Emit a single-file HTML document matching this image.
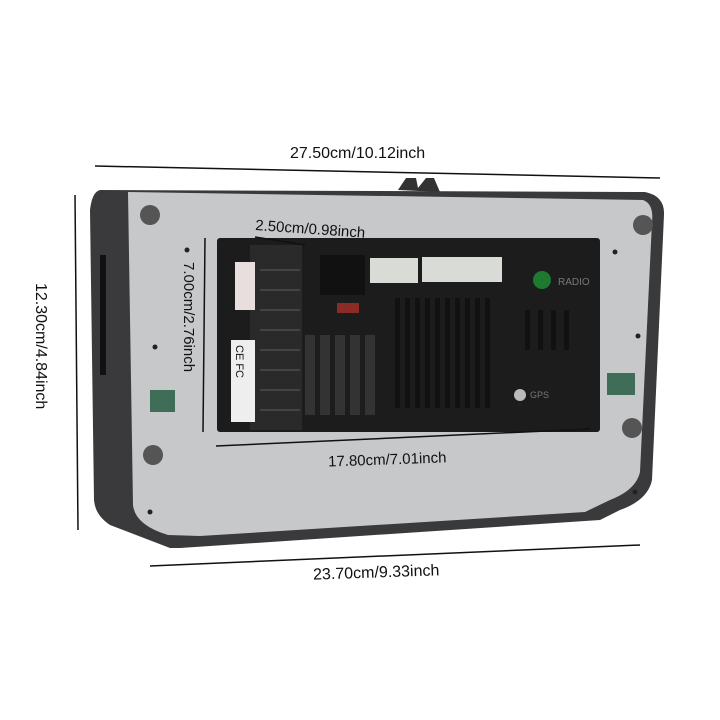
<!DOCTYPE html>
<html><head><meta charset="utf-8"><style>
html,body{margin:0;padding:0;background:#fff;width:720px;height:720px;overflow:hidden}
svg text{font-family:"Liberation Sans",sans-serif;fill:#111}
</style></head><body>
<svg width="720" height="720" viewBox="0 0 720 720" xmlns="http://www.w3.org/2000/svg">
<line x1="95" y1="166" x2="660" y2="178" stroke="#111" stroke-width="1.5"/>
<text x="290" y="158" font-size="16">27.50cm/10.12inch</text>
<line x1="75" y1="195" x2="78" y2="530" stroke="#111" stroke-width="1.5"/>
<text transform="translate(36,283) rotate(90)" font-size="16">12.30cm/4.84inch</text>
<line x1="150" y1="566" x2="640" y2="545" stroke="#111" stroke-width="1.5"/>
<text x="313" y="577" font-size="16" transform="rotate(-2 390 570)">23.70cm/9.33inch</text>
<polygon points="398,190 406,178 416,178 418,188 426,178 434,178 440,192" fill="#333"/>
<path d="M100,190 L645,192 Q665,196 664,215 L652,480 Q648,500 620,510 L600,520 L180,548 L170,548 L110,525 Q95,515 94,500 L90,210 Q92,192 100,190 Z" fill="#3a3a3c"/>
<path d="M128,192 L643,200 Q654,204 652,222 L640,472 Q636,490 610,500 L585,512 L200,536 L168,535 Q135,525 133,505 Z" fill="#c6c8ca"/>
<rect x="100" y="255" width="6" height="120" fill="#111"/>
<circle cx="150" cy="215" r="10" fill="#555"/>
<circle cx="643" cy="225" r="10" fill="#555"/>
<circle cx="632" cy="428" r="10" fill="#555"/>
<circle cx="153" cy="455" r="10" fill="#555"/>
<g fill="#222"><circle cx="187" cy="250" r="2.5"/><circle cx="155" cy="347" r="2.5"/><circle cx="615" cy="252" r="2.5"/><circle cx="638" cy="336" r="2.5"/><circle cx="635" cy="492" r="2.5"/><circle cx="150" cy="512" r="2.5"/></g>
<rect x="150" y="390" width="25" height="22" fill="#3f6d57"/>
<rect x="607" y="373" width="28" height="22" fill="#3f6d57"/>
<rect x="217" y="238" width="383" height="194" rx="3" fill="#1c1c1d"/>
<rect x="250" y="245" width="52" height="185" fill="#2a2a2b"/>
<g stroke="#444" stroke-width="2">
<line x1="260" y1="270" x2="300" y2="270"/><line x1="260" y1="290" x2="300" y2="290"/><line x1="260" y1="310" x2="300" y2="310"/><line x1="260" y1="330" x2="300" y2="330"/><line x1="260" y1="350" x2="300" y2="350"/><line x1="260" y1="370" x2="300" y2="370"/><line x1="260" y1="390" x2="300" y2="390"/><line x1="260" y1="410" x2="300" y2="410"/>
</g>
<rect x="235" y="262" width="20" height="48" fill="#e8dede"/>
<rect x="231" y="340" width="24" height="82" fill="#eee"/>
<text transform="translate(236,345) rotate(90)" font-size="11">CE FC</text>
<rect x="320" y="255" width="45" height="40" fill="#111"/>
<rect x="370" y="258" width="48" height="25" fill="#d8dbd6"/>
<rect x="422" y="257" width="80" height="25" fill="#d8dbd6"/>
<rect x="337" y="303" width="22" height="10" fill="#8a2b25"/>
<g fill="#333"><rect x="305" y="335" width="10" height="80"/><rect x="320" y="335" width="10" height="80"/><rect x="335" y="335" width="10" height="80"/><rect x="350" y="335" width="10" height="80"/><rect x="365" y="335" width="10" height="80"/></g>
<g fill="#111"><rect x="395" y="298" width="5" height="110"/><rect x="405" y="298" width="5" height="110"/><rect x="415" y="298" width="5" height="110"/><rect x="425" y="298" width="5" height="110"/><rect x="435" y="298" width="5" height="110"/><rect x="445" y="298" width="5" height="110"/><rect x="455" y="298" width="5" height="110"/><rect x="465" y="298" width="5" height="110"/><rect x="475" y="298" width="5" height="110"/><rect x="485" y="298" width="5" height="110"/><rect x="525" y="310" width="5" height="40"/><rect x="538" y="310" width="5" height="40"/><rect x="551" y="310" width="5" height="40"/><rect x="564" y="310" width="5" height="40"/></g>
<circle cx="542" cy="280" r="9" fill="#1d7a2e"/>
<text x="558" y="285" font-size="10" style="fill:#777">RADIO</text>
<circle cx="520" cy="395" r="6" fill="#bbb"/>
<text x="530" y="398" font-size="9" style="fill:#777">GPS</text>
<line x1="205" y1="238" x2="203" y2="432" stroke="#111" stroke-width="1.5"/>
<text transform="translate(184,262) rotate(90)" font-size="15">7.00cm/2.76inch</text>
<line x1="255" y1="237" x2="305" y2="245" stroke="#111" stroke-width="1.5"/>
<text x="255" y="230" font-size="15" transform="rotate(4 255 230)">2.50cm/0.98inch</text>
<line x1="216" y1="446" x2="590" y2="429" stroke="#111" stroke-width="1.5"/>
<text x="328" y="464" font-size="15" transform="rotate(-2 400 458)">17.80cm/7.01inch</text>
</svg>
</body></html>
